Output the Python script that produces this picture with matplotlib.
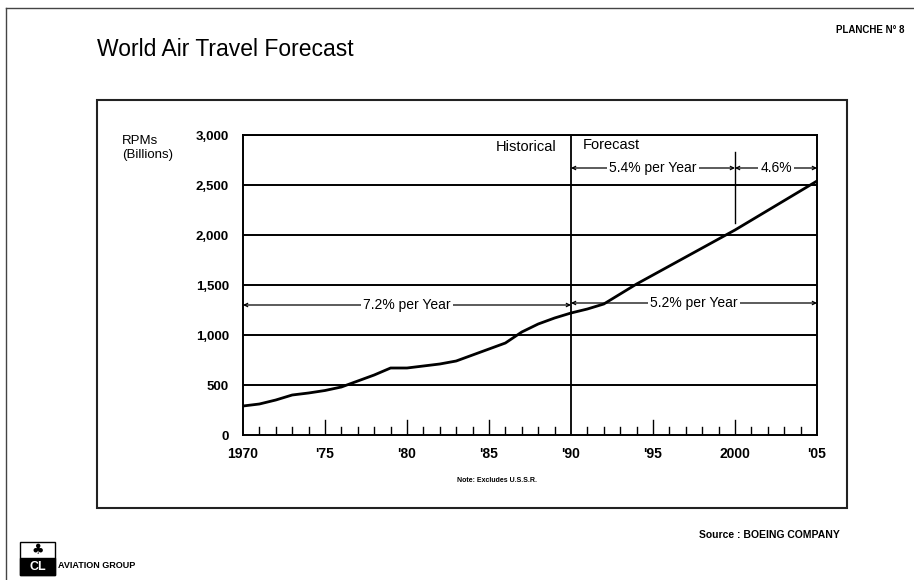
import matplotlib.pyplot as plt
from matplotlib.patches import Rectangle
from matplotlib.lines import Line2D

plt.rcParams['font.family'] = ['Liberation Sans', 'DejaVu Sans']

# RPMs in billions, 1970-1990 actual, 1990-2005 forecast
years = [1970, 1971, 1972, 1973, 1974, 1975, 1976, 1977, 1978, 1979,
         1980, 1981, 1982, 1983, 1984, 1985, 1986, 1987, 1988, 1989,
         1990, 1991, 1992, 1993, 1994, 1995, 2000, 2005]
rpms = [290, 310, 350, 400, 420, 445, 480, 540, 600, 670,
        670, 690, 710, 740, 800, 860, 920, 1030, 1110, 1170,
        1220, 1260, 1310, 1410, 1510, 1600, 2050, 2540]

yticks = [0, 500, 1000, 1500, 2000, 2500, 3000]
ytick_labels = ['0', '500', '1,000', '1,500', '2,000', '2,500', '3,000']
xticks = [1970, 1975, 1980, 1985, 1990, 1995, 2000, 2005]
xtick_labels = ['1970', "'75", "'80", "'85", "'90", "'95", '2000', "'05"]

# growth-rate spans: (start, end, level, label)
spans = [(1970, 1990, 1300, '7.2% per Year'),
         (1990, 2005, 1320, '5.2% per Year'),
         (1990, 2000, 2670, '5.4% per Year'),
         (2000, 2005, 2670, '4.6%')]

fig = plt.figure(figsize=(9.14, 5.80), dpi=100)
W, H = 914, 580
ax = fig.add_axes([243 / W, (H - 435) / H, (817 - 243) / W, 300 / H])

ax.set_xlim(1970, 2005)
ax.set_ylim(0, 3000)

for v in yticks[1:]:
    ax.axhline(v, color='black', lw=1.4, zorder=1)
ax.axvline(1990, color='black', lw=1.3, zorder=1)

ax.plot(years, rpms, color='black', lw=2.0, zorder=3)

# yearly tick marks drawn inside the plot from the baseline
for yr in range(1971, 2005):
    if yr == 1990:
        continue
    h = 150 if yr % 5 == 0 else 80
    ax.plot([yr, yr], [0, h], color='black', lw=1.0, zorder=2)

for s, e, lev, lab in spans:
    ax.annotate('', xy=(s, lev), xytext=(e, lev),
                arrowprops=dict(arrowstyle='<->', lw=0.9, color='black',
                                mutation_scale=6, shrinkA=0, shrinkB=0),
                zorder=4)
    ax.text((s + e) / 2, lev, lab, ha='center', va='center', fontsize=10,
            bbox=dict(facecolor='white', edgecolor='none', pad=1.5), zorder=5)

ax.plot([2000, 2000], [2120, 2830], color='black', lw=1.0, zorder=4)

ax.text(1989.1, 2880, 'Historical', ha='right', va='center', fontsize=10.5)
ax.text(1990.7, 2900, 'Forecast', ha='left', va='center', fontsize=10.5)

ax.set_yticks(yticks)
ax.set_yticklabels(ytick_labels, fontsize=9.5, fontweight='bold')
ax.set_xticks(xticks)
ax.set_xticklabels(xtick_labels, fontsize=10, fontweight='bold')
ax.tick_params(length=0, pad=9)
ax.tick_params(axis='y', pad=10)
for sp in ax.spines.values():
    sp.set_linewidth(1.4)

fig.text(122 / W, 1 - 148 / H, 'RPMs\n(Billions)', ha='left', va='center',
         fontsize=9.5, linespacing=1.3)

fig.text(97 / W, 1 - 50 / H, 'World Air Travel Forecast', ha='left', va='center',
         fontsize=16.5)
fig.text(905 / W, 1 - 30 / H, 'PLANCHE N° 8', ha='right', va='center',
         fontsize=7, fontweight='bold')
fig.text(497 / W, 1 - 480 / H, 'Note: Excludes U.S.S.R.', ha='center', va='center',
         fontsize=5, fontweight='bold')
fig.text(840 / W, 1 - 535 / H, 'Source : BOEING COMPANY', ha='right', va='center',
         fontsize=7.5, fontweight='bold')

# frame around the chart and page border
fig.add_artist(Rectangle((97 / W, 1 - 508 / H), (847 - 97) / W, (508 - 100) / H,
                         transform=fig.transFigure, fill=False, lw=1.5,
                         edgecolor='#222222'))
fig.add_artist(Line2D([6 / W, 1], [1 - 8 / H, 1 - 8 / H], color='#444444', lw=1.0))
fig.add_artist(Line2D([6 / W, 6 / W], [1 - 8 / H, 0], color='#444444', lw=1.0))

# company logo
fig.add_artist(Rectangle((20 / W, 1 - 575 / H), 35 / W, 33 / H,
                         transform=fig.transFigure, fill=False, lw=1.0,
                         edgecolor='black'))
fig.add_artist(Rectangle((20 / W, 1 - 575 / H), 35 / W, 17 / H,
                         transform=fig.transFigure, color='black'))
fig.text(37.5 / W, 1 - 566.5 / H, 'CL', ha='center', va='center', color='white',
         fontsize=9, fontweight='bold')
fig.text(37.5 / W, 1 - 550 / H, '♣', ha='center', va='center', color='black',
         fontsize=10, family=['DejaVu Sans'])
fig.text(58 / W, 1 - 566 / H, 'AVIATION GROUP', ha='left', va='center',
         fontsize=6.5, fontweight='bold')

fig.savefig('out.png', dpi=100)
